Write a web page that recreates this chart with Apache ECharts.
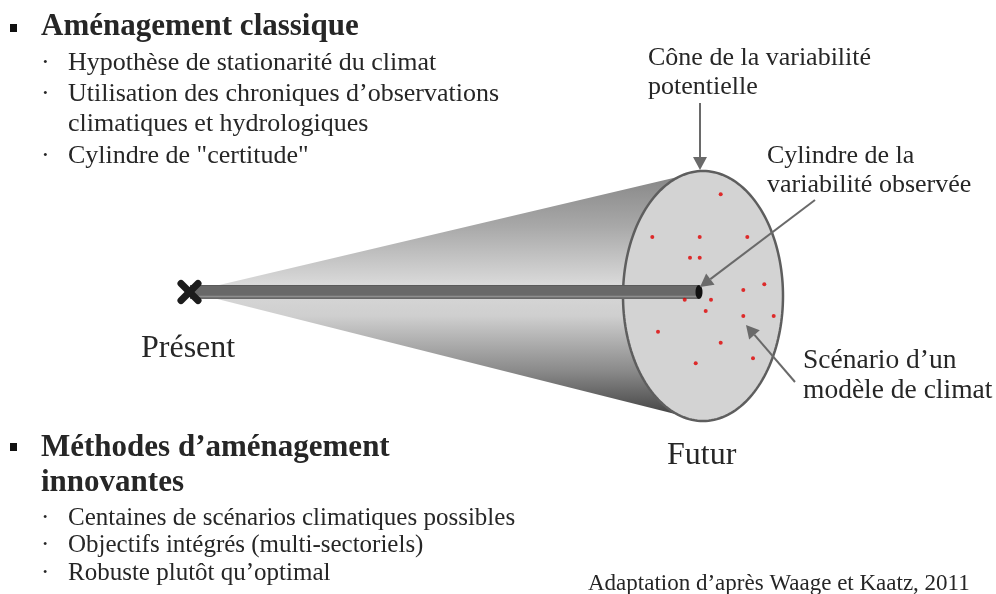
<!DOCTYPE html>
<html><head><meta charset="utf-8">
<script src="https://cdn.jsdelivr.net/npm/echarts@6/dist/echarts.min.js"></script>
<style>html,body{margin:0;padding:0;background:#fff}#c{width:996px;height:594px}</style>
</head><body><div id="c"></div>
<script>
// ---------- data (diagram coordinates: x 0..996, y 0..594 downward) ----------
const headings = ['Aménagement classique', 'Méthodes d’aménagement', 'innovantes'];
const classicItems = ['Hypothèse de stationarité du climat', 'Utilisation des chroniques d’observations', 'climatiques et hydrologiques', 'Cylindre de "certitude"'];
const innovItems = ['Centaines de scénarios climatiques possibles', 'Objectifs intégrés (multi-sectoriels)', 'Robuste plutôt qu’optimal'];
const coneLabel = ['Cône de la variabilité', 'potentielle'];
const cylLabel = ['Cylindre de la', 'variabilité observée'];
const scenLabel = ['Scénario d’un', 'modèle de climat'];
const timeLabels = ['Présent', 'Futur'];
const sourceLabel = 'Adaptation d’après Waage et Kaatz, 2011';

const presentPoint = [189.5, 292];
const futureDisc = [703, 296, 80, 125];          // cx, cy, rx, ry
const observedRod = [190, 699, 292, 7];          // x start, x end, y centre, half thickness
const scenarioX = [720.7, 652.3, 699.7, 747.3, 690, 699.7, 764.3, 743.3, 684.7, 711, 705.7, 743.3, 773.7, 658, 720.7, 753, 695.7];
const scenarioY = [194.3, 237, 237, 237, 257.7, 257.7, 284.3, 290, 299.7, 299.7, 311, 316, 316, 331.7, 342.7, 358.3, 363.3];
const arrowFrom = [[700, 103], [815, 200], [795, 382]];
const arrowTo = [[700, 170], [700, 287], [746, 325]];

// ---------- chart ----------
const chart = echarts.init(document.getElementById('c'), null, {renderer: 'canvas'});
const FONT = '"Liberation Serif", "Times New Roman", serif';
const INK = '#262626';

function txt(s, x, y, size, bold) {
  return {type: 'text', x: x, y: y, z: 100,
    style: {text: s, font: (bold ? 'bold ' : '') + size + 'px ' + FONT, fill: INK,
      textAlign: 'left', textVerticalAlign: 'middle'}};
}

const graphics = [
  {type: 'rect', shape: {x: 10, y: 24, width: 7, height: 8}, style: {fill: '#111'}, z: 100},
  txt(headings[0], 41, 27, 31, true),
  {type: 'rect', shape: {x: 10, y: 443, width: 7, height: 8}, style: {fill: '#111'}, z: 100},
  txt(headings[1], 41, 448, 31, true),
  txt(headings[2], 41, 483, 31, true)
];
const classicY = [63, 94, 124, 156];
classicItems.forEach((s, i) => {
  if (i !== 2) graphics.push(txt('·', 41, classicY[i], 26, false));
  graphics.push(txt(s, 68, classicY[i], 26, false));
});
const innovY = [518, 545, 573];
innovItems.forEach((s, i) => {
  graphics.push(txt('·', 41, innovY[i], 25, false));
  graphics.push(txt(s, 68, innovY[i], 25, false));
});
graphics.push(txt(coneLabel[0], 648, 58, 26, false));
graphics.push(txt(coneLabel[1], 648, 87, 26, false));
graphics.push(txt(cylLabel[0], 767, 156, 26, false));
graphics.push(txt(cylLabel[1], 767, 185, 26, false));
graphics.push(txt(scenLabel[0], 803, 361, 27.5, false));
graphics.push(txt(scenLabel[1], 803, 391, 27.5, false));
graphics.push(txt(timeLabels[0], 141, 349, 32, false));
graphics.push(txt(timeLabels[1], 667, 456, 32, false));
graphics.push(txt(sourceLabel, 588, 584, 23, false));

const option = {
  animation: false,
  backgroundColor: '#ffffff',
  grid: {left: 0, right: 0, top: 0, bottom: 0},
  xAxis: {type: 'value', min: 0, max: 996, show: false},
  yAxis: {type: 'value', min: 0, max: 594, inverse: true, show: false},
  graphic: graphics,
  series: [
    { // cone of potential variability
      type: 'custom', z: 1, silent: true,
      data: [[presentPoint[0], presentPoint[1], futureDisc[0], futureDisc[1], futureDisc[3]]],
      renderItem: function (params, api) {
        const a = api.coord([api.value(0), api.value(1)]);
        const t = api.coord([api.value(2), api.value(3) - api.value(4)]);
        const b = api.coord([api.value(2), api.value(3) + api.value(4)]);
        const grad = new echarts.graphic.LinearGradient(0, t[1], 0, b[1], [
          {offset: 0, color: '#848484'},
          {offset: 0.22, color: '#a8a8a8'},
          {offset: 0.45, color: '#d9d9d9'},
          {offset: 0.58, color: '#cfcfcf'},
          {offset: 0.8, color: '#8a8a8a'},
          {offset: 1, color: '#3a3a3a'}
        ], true);
        return {type: 'polygon', shape: {points: [a, t, b]}, style: {fill: grad}};
      }
    },
    { // future disc (ellipse)
      type: 'custom', z: 2, silent: true,
      data: [futureDisc],
      renderItem: function (params, api) {
        const cx = api.value(0), cy = api.value(1), rx = api.value(2), ry = api.value(3);
        const pts = [];
        for (let k = 0; k < 180; k++) {
          const th = k / 180 * Math.PI * 2;
          pts.push(api.coord([cx + rx * Math.cos(th), cy + ry * Math.sin(th)]));
        }
        return {type: 'polygon', shape: {points: pts}, style: {fill: '#d3d3d3', stroke: '#5e5e5e', lineWidth: 2.5}};
      }
    },
    { // observed cylinder (rod)
      type: 'custom', z: 3, silent: true,
      data: [observedRod],
      renderItem: function (params, api) {
        const p0 = api.coord([api.value(0), api.value(2) - api.value(3)]);
        const p1 = api.coord([api.value(1), api.value(2) + api.value(3)]);
        const c = api.coord([api.value(1), api.value(2)]);
        const h = p1[1] - p0[1];
        return {type: 'group', children: [
          {type: 'rect', shape: {x: p0[0], y: p0[1], width: p1[0] - p0[0], height: h}, style: {fill: '#686868'}},
          {type: 'line', shape: {x1: p0[0], y1: p1[1] - 2.5, x2: p1[0], y2: p1[1] - 2.5}, style: {stroke: '#8e8e8e', lineWidth: 1.5}},
          {type: 'line', shape: {x1: p0[0], y1: p0[1] + 0.5, x2: p1[0], y2: p0[1] + 0.5}, style: {stroke: '#5a5a5a', lineWidth: 1}},
          {type: 'ellipse', shape: {cx: c[0], cy: c[1], rx: 3.5, ry: h / 2}, style: {fill: '#111'}}
        ]};
      }
    },
    { // present marker (X)
      type: 'custom', z: 4, silent: true,
      data: [presentPoint],
      renderItem: function (params, api) {
        const p = api.coord([api.value(0), api.value(1)]);
        const s = 8.5;
        const st = {stroke: '#1c1c1c', lineWidth: 7, lineCap: 'round'};
        return {type: 'group', children: [
          {type: 'line', shape: {x1: p[0] - s, y1: p[1] - s, x2: p[0] + s, y2: p[1] + s}, style: st},
          {type: 'line', shape: {x1: p[0] - s, y1: p[1] + s, x2: p[0] + s, y2: p[1] - s}, style: st}
        ]};
      }
    },
    { // climate model scenarios
      type: 'scatter', z: 5, silent: true,
      symbol: 'circle', symbolSize: 4,
      itemStyle: {color: '#e00000'},
      data: scenarioX.map((x, i) => [x, scenarioY[i]])
    },
    { // arrows
      type: 'custom', z: 6, silent: true,
      data: arrowFrom.map((f, i) => [f[0], f[1], arrowTo[i][0], arrowTo[i][1]]),
      renderItem: function (params, api) {
        const a = api.coord([api.value(0), api.value(1)]);
        const b = api.coord([api.value(2), api.value(3)]);
        const dx = b[0] - a[0], dy = b[1] - a[1];
        const L = Math.sqrt(dx * dx + dy * dy);
        const ux = dx / L, uy = dy / L;
        const hl = 13, hw = 7;
        const base = [b[0] - ux * hl, b[1] - uy * hl];
        return {type: 'group', children: [
          {type: 'line', shape: {x1: a[0], y1: a[1], x2: base[0], y2: base[1]}, style: {stroke: '#6a6a6a', lineWidth: 2}},
          {type: 'polygon', shape: {points: [b, [base[0] - uy * hw, base[1] + ux * hw], [base[0] + uy * hw, base[1] - ux * hw]]}, style: {fill: '#6a6a6a'}}
        ]};
      }
    }
  ]
};
chart.setOption(option);
</script>
</body></html>
